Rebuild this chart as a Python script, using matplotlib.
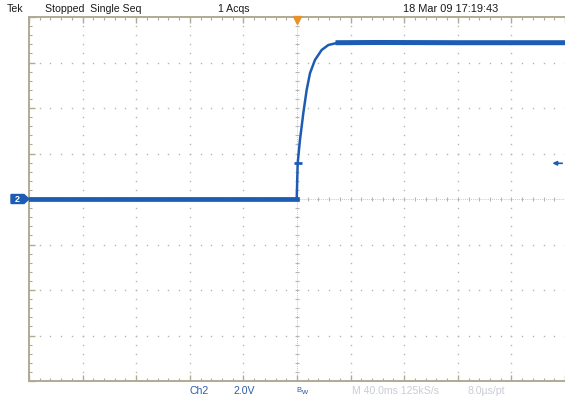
import numpy as np
import matplotlib.pyplot as plt
from matplotlib.patches import Polygon

plt.rcParams['font.family'] = ['Liberation Sans', 'DejaVu Sans']

# Ch2 step response, 40 ms/div, 2 V/div, trigger at screen centre
time_ms = [-200.0, -100.0, -0.2, 0.5, 2.2, 4.7, 7.2, 9.7, 13.4, 18.4, 23.4, 30.6, 60.0, 120.0, 200.0]
volts = [0.0, 0.0, 0.0, 1.57, 2.59, 3.77, 4.79, 5.53, 6.11, 6.55, 6.77, 6.87, 6.88, 6.87, 6.87]
trig_time = 0.5
trig_level = 1.57

ms_per_div = 40.0
v_per_div = 2.0

W, H = 565, 399
fig = plt.figure(figsize=(W / 100, H / 100), dpi=100)
fig.patch.set_facecolor('white')

# screen area in pixels
left, right, top, bottom = 29, 565, 17, 381
ax = fig.add_axes([left / W, 1 - bottom / H, (right - left) / W, (bottom - top) / H])
ax.set_xlim(-5 * ms_per_div, 5 * ms_per_div)
ax.set_ylim(-4 * v_per_div, 4 * v_per_div)
ax.set_facecolor('white')

border = '#b0a994'
dotc = '#b4b4b4'
for s in ['top', 'bottom', 'left']:
    ax.spines[s].set_color(border)
    ax.spines[s].set_linewidth(1.4)
ax.spines['right'].set_visible(False)

ax.set_xticks(np.arange(-5, 6) * ms_per_div)
ax.set_xticks(np.arange(-25, 26) * ms_per_div / 5, minor=True)
ax.set_yticks(np.arange(-4, 5) * v_per_div)
ax.set_yticks(np.arange(-20, 21) * v_per_div / 5, minor=True)
ax.tick_params(which='both', direction='in', top=True, bottom=True, left=True, right=False,
               labelbottom=False, labelleft=False, color=border)
ax.tick_params(which='major', length=4, width=1)
ax.tick_params(which='minor', length=2.5, width=0.8)

# dotted graticule
sub_x = np.arange(-25, 26) * ms_per_div / 5
sub_y = np.arange(-20, 21) * v_per_div / 5
for k in range(-4, 5):
    if k == 0:
        continue
    ax.plot(np.full_like(sub_y, k * ms_per_div), sub_y, ls='none', marker='s', ms=1.0,
            mew=0, color=dotc, zorder=1)
for k in range(-3, 4):
    if k == 0:
        continue
    ax.plot(sub_x, np.full_like(sub_x, k * v_per_div), ls='none', marker='s', ms=1.0,
            mew=0, color=dotc, zorder=1)

# centre cross with tick marks
ax.axvline(0, color=dotc, lw=0.6, ls=(0, (1, 1.5)), zorder=1)
ax.axhline(0, color=dotc, lw=0.6, ls=(0, (1, 1.5)), zorder=1)
ax.plot(np.zeros_like(sub_y), sub_y, ls='none', marker='_', ms=3.5, mew=0.8, color=dotc, zorder=1)
ax.plot(sub_x, np.zeros_like(sub_x), ls='none', marker='|', ms=3.5, mew=0.8, color=dotc, zorder=1)

# waveform
blue = '#1d5cb4'
ax.plot(time_ms, volts, color=blue, lw=1.8, zorder=3, solid_joinstyle='round')
ax.plot(time_ms[:3], volts[:3], color=blue, lw=3.4, zorder=3)
ax.plot(time_ms[11:], volts[11:], color=blue, lw=3.6, zorder=3)
ax.plot([trig_time], [trig_level], marker='_', ms=6, mew=2, color=blue, zorder=4)

# trigger level arrow at the right edge
ax.annotate('', xy=(188.5, trig_level), xytext=(200, trig_level),
            arrowprops=dict(arrowstyle='-|>', color=blue, lw=1.2, mutation_scale=6),
            annotation_clip=False, zorder=4)

# trigger position marker on top border
ax.plot([0], [4 * v_per_div - 0.12], marker='v', ms=6, color='#e8922a', mec='#e8922a',
        clip_on=False, zorder=5)

# ground reference marker for Ch2
gy = 1 - 199 / H
marker = Polygon([[11 / W, gy - 4.5 / H], [24 / W, gy - 4.5 / H], [29 / W, gy],
                  [24 / W, gy + 4.5 / H], [11 / W, gy + 4.5 / H]],
                 closed=True, transform=fig.transFigure, facecolor=blue, edgecolor=blue)
fig.patches.append(marker)
fig.text(17.5 / W, gy, '2', color='white', fontsize=6.5, fontweight='bold',
         ha='center', va='center')


def px_text(x, y, s, **kw):
    fig.text(x / W, 1 - y / H, s, va='center', ha='left', **kw)


px_text(7, 9, 'Tek', fontsize=7.6, color='#1a1a1a')
px_text(45, 9, 'Stopped  Single Seq', fontsize=7.6, color='#1a1a1a')
px_text(218, 9, '1 Acqs', fontsize=7.6, color='#1a1a1a')
px_text(403, 9, '18 Mar 09 17:19:43', fontsize=7.9, color='#1a1a1a')

px_text(190, 391, 'Ch2', fontsize=7.6, color='#2a5ea8')
px_text(233, 391, '2.0V', fontsize=7.6, color='#2a5ea8')
px_text(296, 390, 'B', fontsize=5.5, color='#2a5ea8')
px_text(301, 392, 'w', fontsize=6, color='#2a5ea8')
px_text(352, 391, 'M 40.0ms 125kS/s', fontsize=7.6, color='#c8ccd4')
px_text(468, 391, '8.0\u00b5s/pt', fontsize=7.6, color='#c8ccd4')

fig.savefig('out.png', dpi=100, facecolor='white')
